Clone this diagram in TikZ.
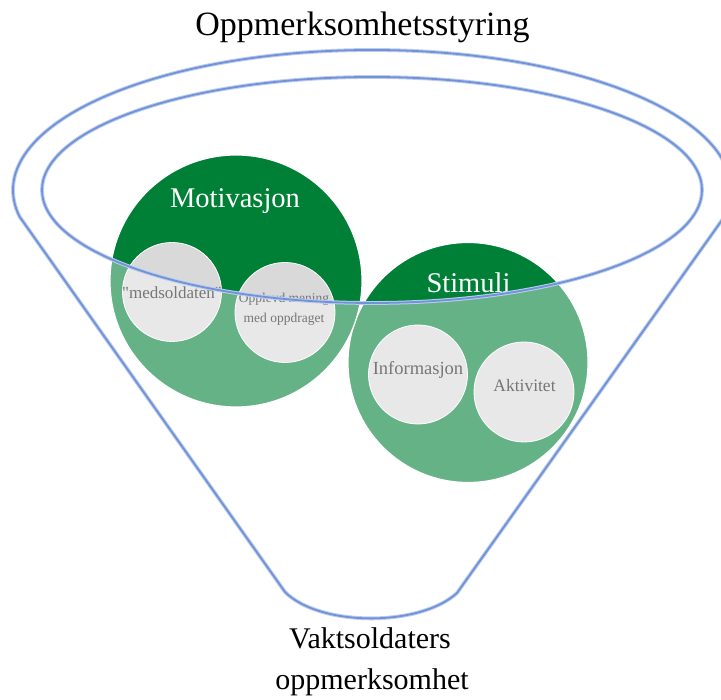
\documentclass[tikz,border=0pt]{standalone}
\usepackage{fontspec}
\setmainfont{Liberation Serif}[Ligatures=TeXOff]
\definecolor{dkgreen}{RGB}{0,128,55}
\definecolor{grayfill}{RGB}{217,217,217}
\definecolor{labelgray}{RGB}{118,118,118}
\definecolor{funnelcore}{RGB}{112,146,214}
\definecolor{funnelhalo}{RGB}{188,204,240}
\begin{document}
\begin{tikzpicture}[x=1pt,y=1pt,
  bigcirc/.style={circle, fill=dkgreen, draw=white, line width=1.2pt, inner sep=0pt},
  smallcirc/.style={circle, fill=grayfill, draw=white, line width=0.8pt, inner sep=0pt, minimum size=99pt},
  funnel/.style={draw=funnelcore, line width=1.8pt, line join=round,
    preaction={draw=funnelhalo, line width=3.8pt, line join=round}},
  biglabel/.style={anchor=base, text=white, font=\fontsize{28.5}{34}\selectfont},
  smalllabel/.style={anchor=base, text=labelgray},
  blacklabel/.style={anchor=base, text=black}]
\useasboundingbox (0,0) rectangle (721,700);
\clip (0,0) rectangle (721,700);
\fill[white] (0,0) rectangle (721,700);

% Stimuli group
\node[bigcirc, minimum size=240pt] (stim) at (468,337.5) {};
\node[smallcirc] (info) at (418,325.5) {};
\node[smallcirc, minimum size=100pt] (akt) at (524,308) {};

% Motivasjon group
\node[bigcirc, minimum size=252pt] (mot) at (236,419) {};
\node[smallcirc] (med) at (172,408) {};
\node[smallcirc, minimum size=100pt] (opp) at (285,387.5) {};

% fade outside the funnel opening
\fill[white, opacity=0.4, even odd rule] (0,0) rectangle (721,700)
  (372,510) ellipse [x radius=330pt, y radius=113pt];

% labels
\node[biglabel] (motlab) at (235,492) {Motivasjon};
\node[biglabel] (stimlab) at (468.5,407.3) {Stimuli};
\node[smalllabel, font=\fontsize{17}{20}\selectfont] (medlab) at (172,401) {"medsoldaten"};
\node[smalllabel, font=\fontsize{13.5}{16}\selectfont] (opplab1) at (284,397) {Opplevd mening};
\node[smalllabel, font=\fontsize{13.5}{16}\selectfont] (opplab2) at (284,377) {med oppdraget};
\node[smalllabel, font=\fontsize{18.5}{22}\selectfont] (infolab) at (418,325) {Informasjon};
\node[smalllabel, font=\fontsize{17.5}{21}\selectfont] (aktlab) at (524.5,308) {Aktivitet};

% funnel
\path[funnel] (724.4,483.3) arc[start angle=-11, end angle=191, x radius=359pt, y radius=140pt]
  -- (285,108) .. controls (320,73) and (420,73) .. (457,107) -- cycle;
\path[funnel] (372,510) ellipse [x radius=330pt, y radius=113pt];

% texts
\node[blacklabel, font=\fontsize{34}{40}\selectfont] (title) at (362.5,664) {Oppmerksomhetsstyring};
\node[blacklabel, font=\fontsize{30}{36}\selectfont] (bot1) at (370,51) {Vaktsoldaters};
\node[blacklabel, font=\fontsize{30}{36}\selectfont] (bot2) at (372,10) {oppmerksomhet};
\end{tikzpicture}
\end{document}
